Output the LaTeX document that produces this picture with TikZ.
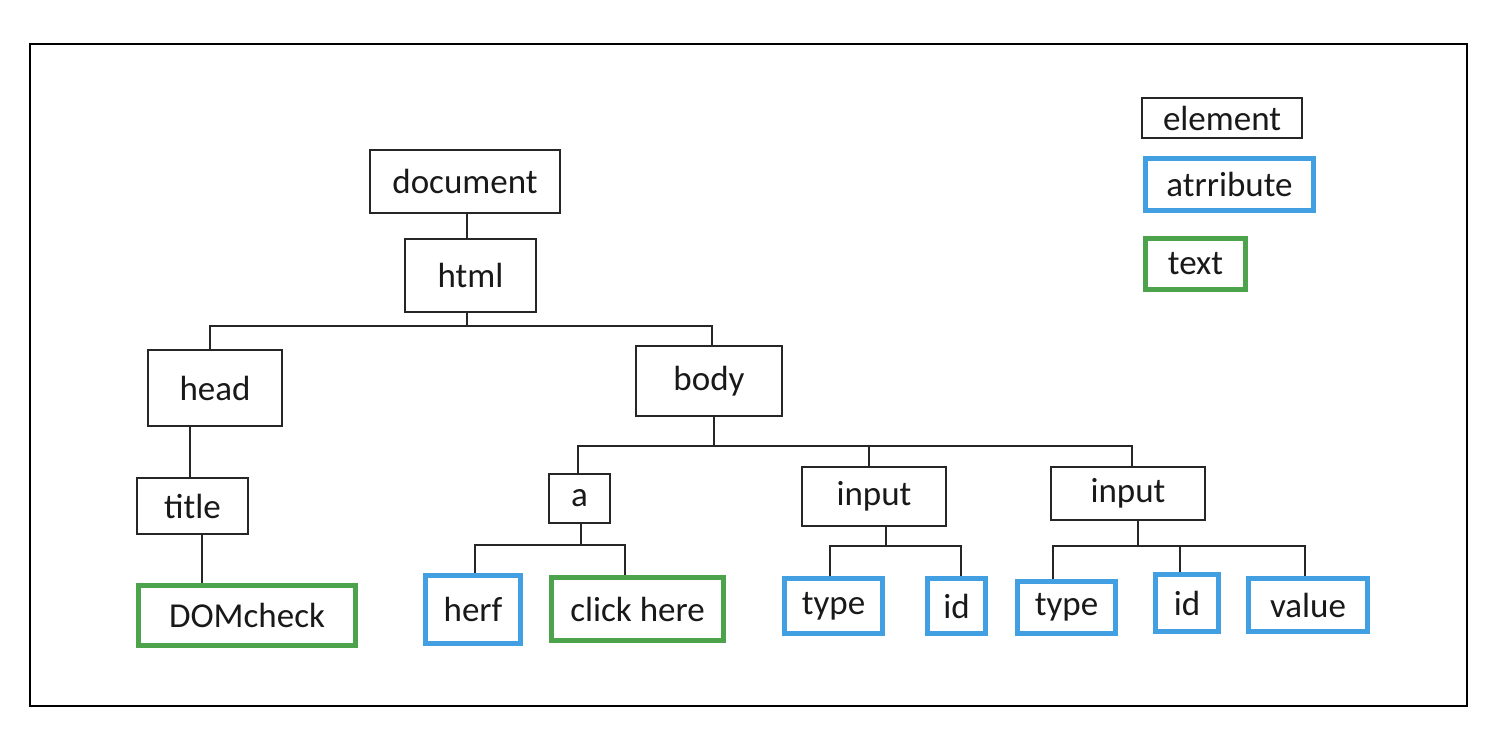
\documentclass[tikz,border=0pt]{standalone}
\usepackage{fontspec}
\setmainfont{Carlito}
\definecolor{attrblue}{RGB}{66,160,226}
\definecolor{textgreen}{RGB}{76,163,76}
\begin{document}
\begin{tikzpicture}[x=1pt,y=-1pt,
  every node/.style={font=\fontsize{35}{40}\selectfont, inner sep=0pt, text=black!90},
  elem/.style={draw=black!85, line width=1.9pt},
  attr/.style={draw=attrblue, line width=5.5pt},
  txt/.style={draw=textgreen, line width=5.5pt},
  conn/.style={draw=black!85, line width=1.9pt}]
\fill[white] (0,0) rectangle (1508,734);
\useasboundingbox (0,0) rectangle (1508,734);
\draw[line width=2pt] (30,44) rectangle (1467,706);

% elements
\node[elem, minimum width=190pt, minimum height=63pt] (document) at (465,181.5) {document};
\node[elem, minimum width=131pt, minimum height=73pt] (html) at (470.5,275.5) {html};
\node[elem, minimum width=134pt, minimum height=76pt] (head) at (215,388) {head};
\node[elem, minimum width=146pt, minimum height=70pt] (body) at (709,381) {body};
\node[elem, minimum width=111pt, minimum height=56pt] (title) at (192.5,506) {title};
\node[elem, minimum width=61pt, minimum height=49pt] (a) at (579.5,498.5) {a};
\node[elem, minimum width=144pt, minimum height=59pt] (input1) at (874,496.5) {input};
\node[elem, minimum width=154pt, minimum height=53pt] (input2) at (1128,493.5) {input};

% text / attributes
\node[txt, minimum width=217pt, minimum height=60pt] (domcheck) at (247,615.5) {DOMcheck};
\node[attr, minimum width=95pt, minimum height=68pt] (herf) at (473,609.5) {herf};
\node[txt, minimum width=172pt, minimum height=63pt] (click) at (637.5,609) {click here};
\node[attr, minimum width=98pt, minimum height=55pt] (type1) at (833.5,606) {type};
\node[attr, minimum width=58pt, minimum height=55pt] (id1) at (956.5,606) {id};
\node[attr, minimum width=98pt, minimum height=52pt] (type2) at (1066.5,607.5) {type};
\node[attr, minimum width=63pt, minimum height=57pt] (id2) at (1187,603) {id};
\node[attr, minimum width=119pt, minimum height=53pt] (value) at (1308,605) {value};

% legend
\node[elem, line width=2.2pt, minimum width=160pt, minimum height=40pt] (lgelem) at (1222,118) {element};
\node[attr, minimum width=168pt, minimum height=52pt] (lgattr) at (1229.5,184.5) {atrribute};
\node[txt, minimum width=100pt, minimum height=51pt] (lgtext) at (1195.5,264) {text};

% connectors
\draw[conn] ([xshift=-3.5pt]html.north |- document.south) -- ([xshift=-3.5pt]html.north);
\draw[conn] ([xshift=-3.5pt]html.south) |- ([xshift=-5pt]head.north |- 0,326) -- ([xshift=-5pt]head.north);
\draw[conn] ([xshift=-3.5pt]html.south) |- ([xshift=3pt]body.north |- 0,326) -- ([xshift=3pt]body.north);
\draw[conn] ([xshift=-2.5pt]title.north) -- ([xshift=-2.5pt]title.north |- head.south);
\draw[conn] ([xshift=9.5pt]title.south) -- ([xshift=9.5pt]title.south |- domcheck.north);

\draw[conn] ([xshift=5pt]body.south) |- ([xshift=-1.5pt]a.north |- 0,446) -- ([xshift=-1.5pt]a.north);
\draw[conn] ([xshift=5pt]body.south) |- ([xshift=4pt]input2.north |- 0,446) -- ([xshift=4pt]input2.north);
\draw[conn] ([xshift=-5pt]input1.north) -- ([xshift=-5pt]input1.north |- 0,446);

\draw[conn] ([xshift=1.5pt]a.south) |- ([xshift=2pt]herf.north |- 0,545) -- ([xshift=2pt]herf.north);
\draw[conn] ([xshift=1.5pt]a.south) |- ([xshift=-12.5pt]click.north |- 0,545) -- ([xshift=-12.5pt]click.north);

\draw[conn] ([xshift=12pt]input1.south) |- ([xshift=-3.5pt]type1.north |- 0,546) -- ([xshift=-3.5pt]type1.north);
\draw[conn] ([xshift=12pt]input1.south) |- ([xshift=4.5pt]id1.north |- 0,546) -- ([xshift=4.5pt]id1.north);

\draw[conn] ([xshift=10pt]input2.south) |- ([xshift=-13.5pt]type2.north |- 0,546) -- ([xshift=-13.5pt]type2.north);
\draw[conn] ([xshift=10pt]input2.south) |- ([xshift=-3pt]value.north |- 0,546) -- ([xshift=-3pt]value.north);
\draw[conn] ([xshift=-7pt]id2.north) -- ([xshift=-7pt]id2.north |- 0,546);
\end{tikzpicture}
\end{document}
